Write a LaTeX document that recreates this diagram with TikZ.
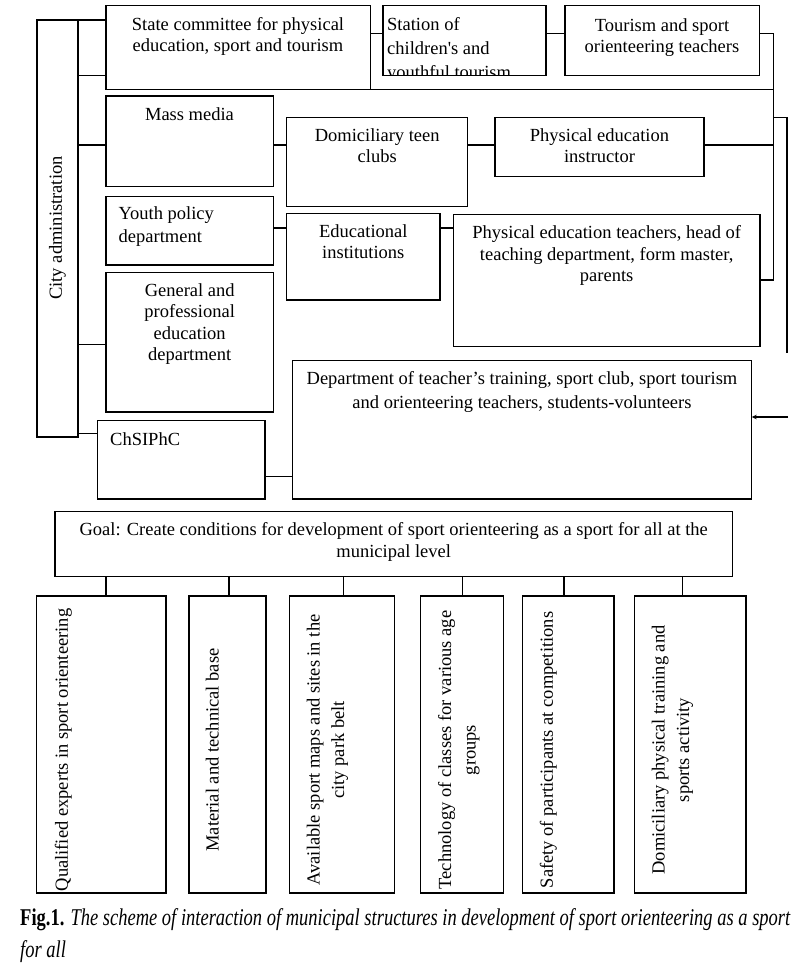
\documentclass[tikz,border=0pt]{standalone}
\usepackage{fontspec}
\setmainfont{Liberation Serif}
\usepackage{graphicx}
\usetikzlibrary{arrows.meta,calc}
\begin{document}
\begin{tikzpicture}[x=1pt,y=-1pt,
  box/.style={draw,line width=1.1pt,rectangle,inner sep=0pt,outer sep=0pt,anchor=north west},
  conn/.style={line width=1.1pt},
  txt/.style={font=\fontsize{18.5}{21.5}\selectfont,align=center,inner sep=0pt,anchor=north},
  txtl/.style={font=\fontsize{18.5}{21.5}\selectfont,align=left,inner sep=0pt,anchor=north west},
  rtxt/.style={font=\fontsize{18.5}{24.5}\selectfont,align=center,inner sep=0pt,rotate=90,anchor=north},
  captxt/.style={font=\fontsize{18.5}{21.5}\selectfont,inner sep=0pt,anchor=base west}]
\useasboundingbox (0,0) rectangle (800,964);

% boxes
\node[box,minimum width=41pt,minimum height=417pt] (city) at (37,20) {};
\node[box,minimum width=264.7pt,minimum height=83.6pt] (state) at (106,5.7) {};
\node[box,minimum width=163pt,minimum height=69.8pt] (station) at (383,5.7) {};
\node[box,minimum width=194.3pt,minimum height=69.8pt] (tourism) at (565,5.7) {};
\node[box,minimum width=167.3pt,minimum height=90.7pt] (mass) at (106,96) {};
\node[box,minimum width=181pt,minimum height=89.4pt] (domic) at (286.7,117.3) {};
\node[box,minimum width=209pt,minimum height=59.4pt] (instr) at (495,117.3) {};
\node[box,minimum width=167.3pt,minimum height=68.3pt] (youth) at (106,196.7) {};
\node[box,minimum width=153.3pt,minimum height=86.5pt] (edu) at (286.7,213.5) {};
\node[box,minimum width=306.7pt,minimum height=132.4pt] (teach) at (453.3,214.3) {};
\node[box,minimum width=167.3pt,minimum height=139.3pt] (general) at (106,272.7) {};
\node[box,minimum width=459.4pt,minimum height=138.3pt] (dept) at (292.3,360.7) {};
\node[box,minimum width=167.3pt,minimum height=78.3pt] (chs) at (97.7,420.7) {};
\node[box,minimum width=677.3pt,minimum height=65pt] (goal) at (55,511.7) {};
\node[box,minimum width=129.3pt,minimum height=297pt] (b1) at (36.7,596) {};
\node[box,minimum width=77pt,minimum height=297pt] (b2) at (189,596) {};
\node[box,minimum width=105pt,minimum height=297pt] (b3) at (289.3,596) {};
\node[box,minimum width=83pt,minimum height=297pt] (b4) at (420.7,596) {};
\node[box,minimum width=91.3pt,minimum height=297pt] (b5) at (522.7,596) {};
\node[box,minimum width=111.3pt,minimum height=297pt] (b6) at (634.7,596) {};

% texts
\node[txt,rotate=90,anchor=center] (t-city) at (57.5,228) {City administration};
\node[txt] (t-state) at (238,15) {\strut State committee for physical\\education, sport and tourism};
\begin{scope}
  \clip (station.north west) rectangle (station.south east);
  \node[txtl,font=\fontsize{18.5}{24}\selectfont] (t-station) at (387,13.2) {\strut Station of\\children\textquotesingle s and\\youthful tourism};
\end{scope}
\node[txt] (t-tourism) at (662,16) {\strut Tourism and sport\\orienteering teachers};
\node[txt] (t-mass) at (189.5,105) {\strut Mass media};
\node[txt] (t-domic) at (377.2,126) {\strut Domiciliary teen\\clubs};
\node[txt] (t-instr) at (599.5,126) {\strut Physical education\\instructor};
\node[txtl,font=\fontsize{18.5}{23}\selectfont] (t-youth) at (118.5,203.2) {\strut Youth policy\\department};
\node[txt] (t-edu) at (363.3,222) {\strut Educational\\institutions};
\node[txt] (t-teach) at (606.7,223.3) {\strut Physical education teachers, head of\\teaching department, form master,\\parents};
\node[txt] (t-general) at (189.7,281) {\strut General and\\professional\\education\\department};
\node[txtl] (t-chs) at (110,430) {\strut ChSIPhC};
\node[txt,font=\fontsize{18.5}{24.4}\selectfont] (t-dept) at (522,367.2) {\strut Department of teacher’s training, sport club, sport tourism\\and orienteering teachers, students-volunteers};
\node[txt,font=\fontsize{18.5}{22.4}\selectfont] (t-goal) at (393.7,519.6) {\strut Goal: Create conditions for development of sport orienteering as a sport for all at the\\municipal level};
\node[rtxt] (t-b1) at (50.55,750) {\strut Qualified experts in sport orienteering};
\node[rtxt] (t-b2) at (201.15,750) {\strut Material and technical base};
\node[rtxt] (t-b3) at (302.15,750) {\strut Available sport maps and sites in the\\city park belt};
\node[rtxt] (t-b4) at (433.85,750) {\strut Technology of classes for various age\\groups};
\node[rtxt] (t-b5) at (535.55,750) {\strut Safety of participants at competitions};
\node[rtxt] (t-b6) at (647.15,750) {\strut Domiciliary physical training and\\sports activity};

\node[captxt] (cap1) at (20,925) {\scalebox{1}[1.3]{\textbf{Fig.1.} \textit{The scheme of interaction of municipal structures in development of sport orienteering as a sport}}};
\node[captxt] (cap2) at (20,957) {\scalebox{1}[1.3]{\textit{for all}}};

% bus coordinates
\coordinate (rbTop) at (773.3,33.3);
\coordinate (rbBot) at (773.3,280);
\coordinate (br1) at (773.3,117.3);
\coordinate (br2) at (787,117.3);
\coordinate (br3) at (787,353.3);
\coordinate (arrS) at (788,417);

% connectors
\draw[conn] (city.north east) -- (city.north east -| state.west);
\draw[conn] (city.east |- 0,75.7) -- (state.west |- 0,75.7);
\draw[conn] (city.east |- 0,145) -- (mass.west |- 0,145);
\draw[conn] (city.east |- 0,344.3) -- (general.west |- 0,344.3);
\draw[conn] (city.east |- 0,433.3) -- (chs.west |- 0,433.3);
\draw[conn] (state.east |- rbTop) -- (station.west |- rbTop);
\draw[conn] (station.east |- rbTop) -- (tourism.west |- rbTop);
\draw[conn] (tourism.east |- rbTop) -- (rbTop) -- (rbBot) -- (teach.east |- rbBot);
\draw[conn] (state.south east) -- (state.south east -| rbTop);
\draw[conn] (instr.east |- 0,145) -- (rbTop |- 0,145);
\draw[conn] (mass.east |- 0,145) -- (domic.west |- 0,145);
\draw[conn] (domic.east |- 0,145) -- (instr.west |- 0,145);
\draw[conn] (youth.east |- 0,228) -- (edu.west |- 0,228);
\draw[conn] (edu.east |- 0,228) -- (teach.west |- 0,228);
\draw[conn] (br1) -- (br2) -- (br3);
\draw[conn,-{Stealth[length=5pt,width=4.5pt]}] (arrS) -- (dept.east |- arrS);
\draw[conn] (chs.east |- 0,476.7) -- (dept.west |- 0,476.7);
\foreach \b/\x in {b1/106,b2/229,b3/343.3,b4/462.7,b5/564,b6/682.5}
  \draw[conn] (\x,0 |- goal.south) -- (\x,0 |- \b.north);
\end{tikzpicture}
\end{document}
